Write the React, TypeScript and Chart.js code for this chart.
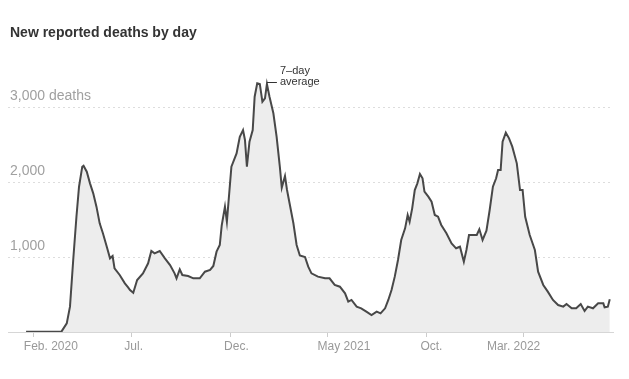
import React, { useEffect, useRef } from 'react';
import { Chart, registerables } from 'chart.js';

Chart.register(...registerables);

const chartTitle = 'New reported deaths by day';

// Days since Jan. 1, 2020 and the 7-day average of reported deaths
const dayIndex = [
  19, 40, 60, 74, 82, 87, 92, 97, 101, 106, 108, 113, 118, 123, 128, 133, 138, 144, 149, 153,
  156, 164, 172, 177, 180, 185, 191, 200, 208, 213, 218, 226, 234, 242, 249, 252, 257, 261, 270, 278,
  288, 296, 304, 309, 314, 319, 322, 327, 330, 337, 345, 350, 355, 358, 361, 365, 370, 373, 377, 381,
  385, 389, 392, 396, 402, 407, 412, 415, 420, 423, 427, 433, 438, 443, 451, 456, 461, 471, 482, 489,
  497, 505, 513, 518, 523, 531, 538, 546, 554, 562, 568, 575, 580, 585, 590, 595, 600, 606, 610, 613,
  617, 621, 625, 629, 633, 636, 642, 647, 652, 657, 662, 670, 678, 685, 691, 697, 701, 705, 711, 717,
  721, 726, 732, 737, 742, 747, 750, 754, 757, 762, 767, 772, 779, 784, 788, 792, 799, 807, 812, 820,
  827, 835, 843, 851, 856, 864, 871, 878, 884, 889, 897, 905, 913, 915, 920, 923,
];
const deaths = [
  5, 4, 5, 8, 115, 338, 960, 1537, 1937, 2204, 2217, 2137, 1982, 1849, 1671, 1449, 1316, 1137, 982, 1013,
  849, 760, 649, 596, 560, 524, 693, 782, 916, 1080, 1049, 1080, 982, 893, 782, 716, 836, 760, 747, 716,
  716, 804, 827, 880, 1071, 1160, 1420, 1671, 1471, 2204, 2382, 2604, 2693, 2560, 2204, 2537, 2693, 3137, 3316, 3307,
  3071, 3116, 3307, 3137, 2916, 2604, 2204, 1925, 2080, 1900, 1720, 1450, 1160, 1020, 1000, 871, 782, 738, 716, 716,
  627, 604, 516, 404, 427, 338, 316, 271, 227, 271, 249, 316, 427, 560, 738, 960, 1227, 1382, 1560, 1471,
  1649, 1893, 1982, 2107, 2049, 1871, 1804, 1737, 1560, 1537, 1427, 1316, 1182, 1116, 1137, 937, 1093, 1293, 1293, 1293,
  1369, 1227, 1350, 1627, 1937, 2050, 2160, 2160, 2537, 2658, 2582, 2471, 2249, 1893, 1893, 1537, 1293, 1093, 804, 627,
  538, 427, 360, 338, 373, 316, 316, 373, 280, 338, 316, 382, 382, 329, 338, 436,
];

const xTickDays = [31, 182, 335, 486, 639, 790];
const xTickLabels = ['Feb. 2020', 'Jul.', 'Dec.', 'May 2021', 'Oct.', 'Mar. 2022'];
const yTickValues = [1000, 2000, 3000];
const yTickLabels = ['1,000', '2,000', '3,000 deaths'];
const annotationLines = ['7\u2013day', 'average'];
const annotationDay = 392;

// layout: horizontal shift of each x label's left edge relative to its tick (px)
const xLabelShift = [-10, -7, -6, -10, -6, -37];

const FONT = '"Liberation Sans", Arial, Helvetica, sans-serif';

const overlayPlugin = {
  id: 'overlay',
  afterDatasetsDraw(chart: any) {
    const { ctx, scales } = chart;
    const x = scales.x;
    const y = scales.y;
    const i = dayIndex.indexOf(annotationDay);
    const px = x.getPixelForValue(dayIndex[i]);
    const py = y.getPixelForValue(deaths[i]);
    ctx.save();
    ctx.strokeStyle = '#333';
    ctx.lineWidth = 1;
    ctx.beginPath();
    ctx.moveTo(px, Math.round(py - 2) + 0.5);
    ctx.lineTo(px + 10, Math.round(py - 2) + 0.5);
    ctx.stroke();
    ctx.font = `11px ${FONT}`;
    ctx.fillStyle = '#333';
    ctx.textAlign = 'left';
    ctx.textBaseline = 'alphabetic';
    ctx.fillText(annotationLines[0], px + 13, py - 10);
    ctx.fillText(annotationLines[1], px + 13, py + 1);
    ctx.restore();
  },
  afterDraw(chart: any) {
    const { ctx, scales, chartArea } = chart;
    ctx.save();
    ctx.font = `bold 14px ${FONT}`;
    ctx.fillStyle = '#333';
    ctx.textAlign = 'left';
    ctx.textBaseline = 'alphabetic';
    ctx.fillText(chartTitle, 10, 37);
    ctx.font = `12px ${FONT}`;
    ctx.fillStyle = '#999';
    xTickDays.forEach((d, k) => {
      const tx = scales.x.getPixelForValue(d);
      ctx.fillText(xTickLabels[k], tx + xLabelShift[k], chartArea.bottom + 18);
    });
    ctx.restore();
  },
};

export default function App() {
  const canvasRef = useRef<HTMLCanvasElement | null>(null);

  useEffect(() => {
    if (!canvasRef.current) return;
    const points = dayIndex.map((d, i) => ({ x: d, y: deaths[i] }));
    const chart = new Chart(canvasRef.current, {
      type: 'line',
      data: {
        datasets: [
          {
            data: points,
            borderColor: '#484848',
            borderWidth: 2,
            backgroundColor: '#ededed',
            fill: 'origin',
            pointRadius: 0,
            tension: 0,
          },
        ],
      },
      options: {
        animation: false,
        responsive: true,
        maintainAspectRatio: false,
        parsing: false as any,
        layout: { padding: { top: 77, left: 4, right: 16, bottom: 42 } },
        plugins: {
          legend: { display: false },
          tooltip: { enabled: false },
          title: { display: false },
        },
        scales: {
          x: {
            type: 'linear',
            min: -9,
            max: 928,
            afterBuildTicks: (scale: any) => {
              scale.ticks = xTickDays.map((v) => ({ value: v }));
            },
            ticks: { display: false },
            grid: {
              drawOnChartArea: false,
              drawTicks: true,
              tickLength: 5,
              color: '#cccccc',
            },
            border: { display: true, color: '#d6d6d6', width: 1 },
          },
          y: {
            type: 'linear',
            min: 0,
            max: 3400,
            afterBuildTicks: (scale: any) => {
              scale.ticks = yTickValues.map((v) => ({ value: v }));
            },
            ticks: {
              mirror: true,
              padding: 2,
              labelOffset: -11,
              color: '#a0a0a0',
              font: { family: FONT, size: 14 },
              callback: (v: any) => {
                const k = yTickValues.indexOf(Number(v));
                return k >= 0 ? yTickLabels[k] : '';
              },
            },
            grid: {
              drawTicks: false,
              color: '#dddddd',
              lineWidth: 1,
            },
            border: { display: false, dash: [2, 3] },
          },
        },
      },
      plugins: [overlayPlugin],
    });
    return () => chart.destroy();
  }, []);

  return (
    <div style={{ position: 'absolute', left: 0, top: 0, width: 629, height: 379, background: '#fff' }}>
      <canvas ref={canvasRef} />
    </div>
  );
}
